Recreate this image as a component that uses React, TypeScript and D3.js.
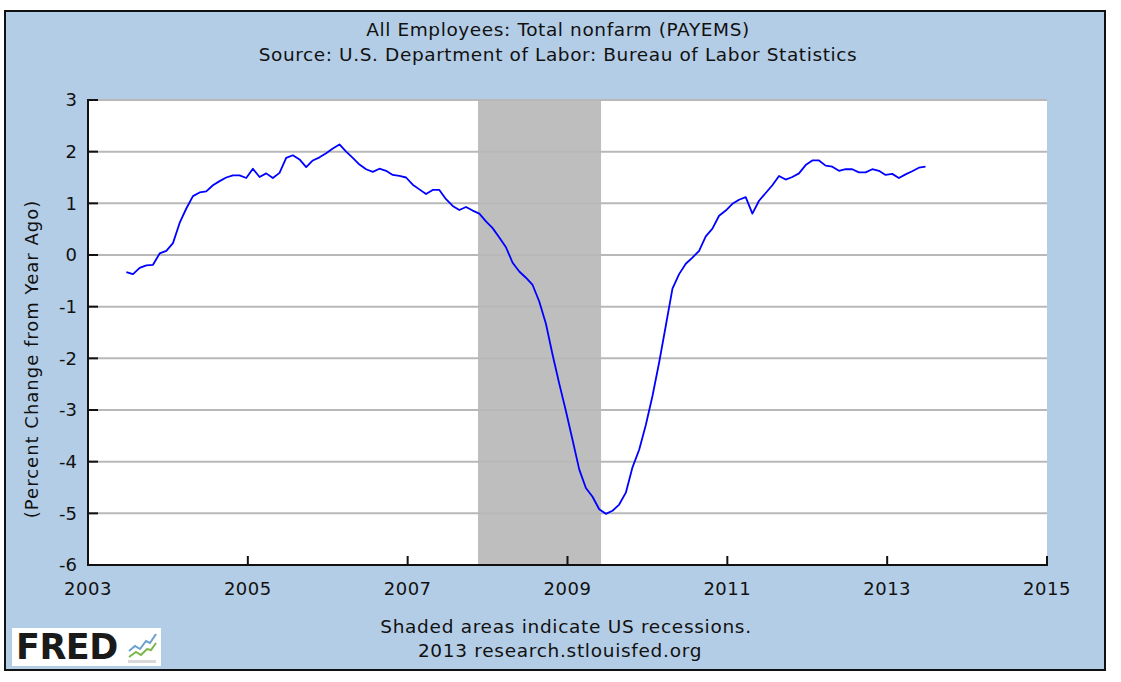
import { line, scaleLinear } from 'd3'

// year-over-year % change, monthly from Jul 2003 to Jul 2013
const startYear = 2003.48
const payemsChange = [
  -0.33, -0.37, -0.25, -0.2, -0.19, 0.03, 0.08, 0.23, 0.62, 0.9, 1.14, 1.21,
  1.23, 1.35, 1.43, 1.5, 1.54, 1.54, 1.49, 1.67, 1.51, 1.58, 1.49, 1.59,
  1.88, 1.93, 1.85, 1.7, 1.83, 1.89, 1.97, 2.06, 2.14, 2.0, 1.88, 1.75,
  1.66, 1.61, 1.67, 1.63, 1.55, 1.53, 1.5, 1.36, 1.27, 1.18, 1.26, 1.26,
  1.08, 0.95, 0.87, 0.93, 0.86, 0.8, 0.65, 0.52, 0.34, 0.15, -0.15, -0.32,
  -0.44, -0.58, -0.9, -1.33, -1.93, -2.49, -3.02, -3.58, -4.15, -4.51, -4.68, -4.92,
  -5.01, -4.95, -4.83, -4.6, -4.11, -3.77, -3.29, -2.73, -2.08, -1.37, -0.65, -0.37,
  -0.17, -0.05, 0.08, 0.36, 0.51, 0.76, 0.86, 0.99, 1.07, 1.12, 0.8, 1.05,
  1.2, 1.35, 1.53, 1.46, 1.51, 1.58, 1.74, 1.83, 1.83, 1.73, 1.71, 1.63,
  1.66, 1.66, 1.6, 1.6, 1.66, 1.63, 1.55, 1.57, 1.49, 1.56, 1.62, 1.69,
  1.71,
]
const recession = [2007.88, 2009.42]
const yTicks = [3, 2, 1, 0, -1, -2, -3, -4, -5, -6]
const xTicks = [2003, 2005, 2007, 2009, 2011, 2013, 2015]
const titleLines = ['All Employees: Total nonfarm (PAYEMS)', 'Source: U.S. Department of Labor: Bureau of Labor Statistics']
const footLines = ['Shaded areas indicate US recessions.', '2013 research.stlouisfed.org']
const yLabel = '(Percent Change from Year Ago)'

const W = 1121
const H = 682
const plot = { left: 88, right: 1047, top: 100, bottom: 565 }
const bg = '#b4cde6'
const font = 'DejaVu Sans, Verdana, sans-serif'

export default function App() {
  const x = scaleLinear().domain([2003, 2015]).range([plot.left, plot.right])
  const y = scaleLinear().domain([-6, 3]).range([plot.bottom, plot.top])

  const path = line<number>()
    .x((_, i) => x(startYear + i / 12))
    .y((d) => y(d))(payemsChange)

  return (
    <svg width={W} height={H} style={{ position: 'absolute', left: 0, top: 0 }} fontFamily={font}>
      <rect x={0} y={0} width={W} height={H} fill="#fff" />
      <rect x={5} y={11} width={1100} height={659} fill={bg} stroke="#111" strokeWidth={2} />

      {titleLines.map((t, i) => (
        <text key={t} x={558} y={36 + i * 25} textAnchor="middle" fontSize={18.5} letterSpacing={0.6} fill="#111">
          {t}
        </text>
      ))}

      <rect x={plot.left} y={plot.top} width={plot.right - plot.left} height={plot.bottom - plot.top} fill="#fff" />
      <rect
        x={x(recession[0])}
        y={plot.top}
        width={x(recession[1]) - x(recession[0])}
        height={plot.bottom - plot.top}
        fill="#bebebe"
      />

      {yTicks.map((t) => (
        <g key={t}>
          {t !== -6 && (
            <line x1={plot.left} x2={plot.right} y1={y(t)} y2={y(t)} stroke="#b8b8b8" strokeWidth={2} />
          )}
          <line x1={plot.left} x2={plot.left + 10} y1={y(t)} y2={y(t)} stroke="#111" strokeWidth={2} />
          <text x={77} y={y(t)} dy="0.36em" textAnchor="end" fontSize={18} fill="#111">
            {t}
          </text>
        </g>
      ))}

      {xTicks.map((t) => (
        <g key={t}>
          <line x1={x(t)} x2={x(t)} y1={plot.bottom} y2={plot.bottom - 9} stroke="#111" strokeWidth={2} />
          <text x={x(t)} y={595} textAnchor="middle" fontSize={18} letterSpacing={0.5} fill="#111">
            {t}
          </text>
        </g>
      ))}

      <line x1={plot.left} x2={plot.left} y1={plot.top - 1} y2={plot.bottom + 1} stroke="#111" strokeWidth={2} />
      <line x1={plot.left - 1} x2={plot.right + 1} y1={plot.bottom} y2={plot.bottom} stroke="#111" strokeWidth={2} />

      <path d={path ?? ''} fill="none" stroke="#0000ff" strokeWidth={1.8} strokeLinejoin="round" />

      <text
        transform="translate(38,359) rotate(-90)"
        textAnchor="middle"
        fontSize={18}
        letterSpacing={1}
        fill="#111"
      >
        {yLabel}
      </text>

      {footLines.map((t, i) => (
        <text key={t} x={566 - i * 6} y={633 + i * 24} textAnchor="middle" fontSize={18.5} letterSpacing={0.7} fill="#111">
          {t}
        </text>
      ))}

      {/* FRED logo */}
      <rect x={12} y={628} width={149} height={38} fill="#fff" />
      <text x={16} y={659} fontSize={35} fontWeight="bold" fill="#1a1a1a" letterSpacing={-0.5}>
        FRED
      </text>
      <path d="M128 660 L156 660 L156 663 L128 663 Z" fill="#d8d8d8" />
      <path d="M129 651 L135 646 L140 649 L146 641 L150 643 L156 634" fill="none" stroke="#6a9fd0" strokeWidth={2} />
      <path d="M129 657 L136 652 L141 655 L147 649 L151 650 L156 643" fill="none" stroke="#7ab648" strokeWidth={2} />
    </svg>
  )
}
